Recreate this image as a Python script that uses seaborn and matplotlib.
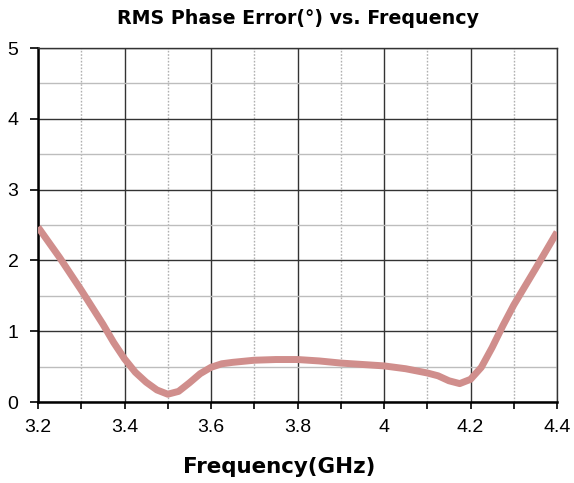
import numpy as np
import pandas as pd
import matplotlib
matplotlib.use("Agg")
import matplotlib.pyplot as plt
import seaborn as sns
from matplotlib.ticker import MultipleLocator

# RMS phase error
freq_ghz = [3.2, 3.25, 3.3, 3.35, 3.375, 3.4, 3.425, 3.45, 3.475, 3.5,
            3.525, 3.55, 3.575, 3.6, 3.625, 3.65, 3.7, 3.75, 3.8, 3.85,
            3.9, 3.95, 4.0, 4.05, 4.1, 4.125, 4.15, 4.175, 4.2, 4.225,
            4.25, 4.275, 4.3, 4.35, 4.4]
rms_phase_err = [2.47, 2.04, 1.58, 1.10, 0.84, 0.61, 0.42, 0.28, 0.17, 0.11,
                 0.15, 0.27, 0.40, 0.49, 0.54, 0.56, 0.59, 0.60, 0.60, 0.58,
                 0.55, 0.53, 0.51, 0.47, 0.41, 0.37, 0.30, 0.26, 0.32, 0.49,
                 0.77, 1.08, 1.37, 1.88, 2.40]

df = pd.DataFrame({"freq": freq_ghz, "err": rms_phase_err})

sns.set_style("white")
plt.rcParams["font.family"] = ["Liberation Sans", "DejaVu Sans"]
plt.rcParams["text.color"] = "black"
plt.rcParams["xtick.color"] = "black"
plt.rcParams["ytick.color"] = "black"
plt.rcParams["axes.labelcolor"] = "black"

fig = plt.figure(figsize=(5.74, 4.83), dpi=100)
ax = fig.add_axes([0.0662, 0.1677, 0.9042, 0.7329])

sns.lineplot(data=df, x="freq", y="err", ax=ax, color="#d08e8c", linewidth=5,
             solid_capstyle="butt", solid_joinstyle="round", zorder=5)

ax.set_xlim(3.2, 4.4)
ax.set_ylim(0, 5)
ax.xaxis.set_major_locator(MultipleLocator(0.2))
ax.xaxis.set_minor_locator(MultipleLocator(0.1))
ax.yaxis.set_major_locator(MultipleLocator(1))
ax.yaxis.set_minor_locator(MultipleLocator(0.5))
ax.set_xticklabels([f"{v:g}" for v in ax.get_xticks()])

ax.grid(which="major", axis="both", color="#333333", linewidth=1.0)
ax.grid(which="minor", axis="y", color="#bdbdbd", linewidth=1.0)
ax.grid(which="minor", axis="x", color="#b0b0b0", linewidth=1.0, linestyle=(0, (1.2, 1.2)))

for side in ["left", "bottom"]:
    ax.spines[side].set_color("black")
    ax.spines[side].set_linewidth(1.8)
for side in ["top", "right"]:
    ax.spines[side].set_color("#333333")
    ax.spines[side].set_linewidth(1.0)

ax.tick_params(axis="x", which="both", direction="out", length=5, width=1.2,
               color="black", labelsize=14, pad=7, bottom=True)
ax.tick_params(axis="y", which="major", direction="out", length=6, width=1.2,
               color="black", labelsize=14, pad=8, left=True)
ax.tick_params(axis="y", which="minor", length=0)

ax.set_title("RMS Phase Error(°) vs. Frequency", fontsize=13.7, fontweight="bold",
             family="DejaVu Sans", pad=17)
ax.set_xlabel("Frequency(GHz)", fontsize=15.4, fontweight="bold",
              family="DejaVu Sans")
ax.xaxis.set_label_coords(0.464, -0.155)
ax.set_ylabel("")

fig.savefig("out.png", dpi=100)
